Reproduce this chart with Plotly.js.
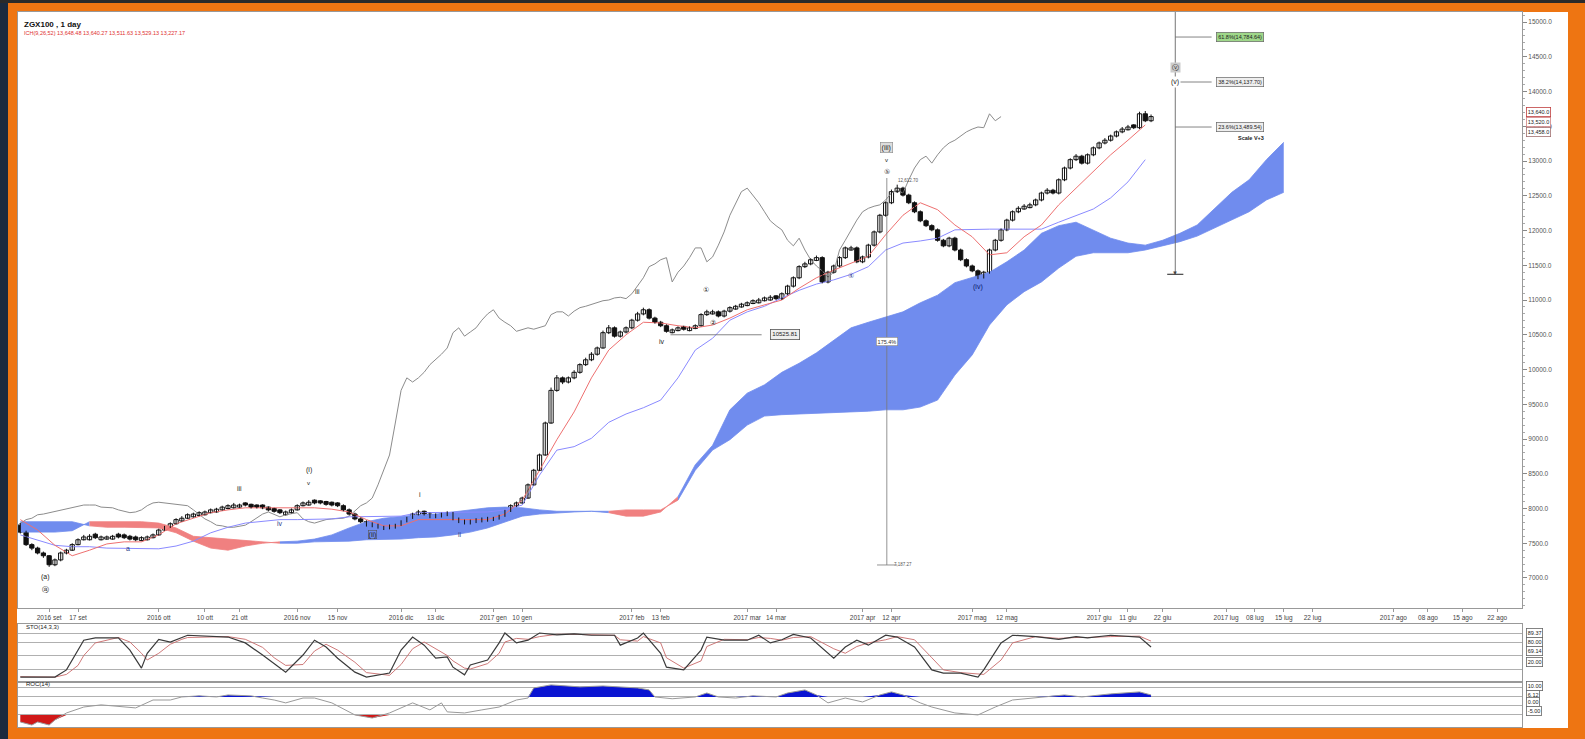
<!DOCTYPE html>
<html><head><meta charset="utf-8">
<script src="https://cdn.plot.ly/plotly-3.0.1.min.js"></script>
<style>html,body{margin:0;padding:0;background:#ee7512;}#chart{width:1585px;height:739px;}</style>
</head><body><div id="chart"></div>
<script>
// ---- price candles (one per trading day) ----
const opens = [7760,7660,7480,7430,7360,7320,7190,7260,7360,7400,
7480,7550,7550,7630,7550,7560,7560,7630,7620,7600,
7590,7540,7550,7580,7620,7690,7730,7780,7820,7860,
7880,7900,7910,7940,7950,7980,8000,8010,8020,8080,
8060,8050,8050,8020,8000,7980,7910,7940,7980,8040,
8050,8120,8110,8100,8090,8080,8040,7980,7920,7850,
7810,7790,7770,7700,7710,7720,7760,7810,7860,7910,
7960,7920,7870,7880,7900,7940,7850,7830,7780,7800,
7810,7820,7830,7850,7890,7960,8040,8080,8150,8340,
8550,8770,9230,9700,9880,9820,9880,9960,10070,10140,
10220,10310,10530,10600,10480,10540,10600,10710,10800,10860,
10740,10680,10630,10530,10560,10620,10560,10590,10630,10790,
10800,10830,10770,10840,10870,10900,10920,10950,10960,10990,
11000,11060,11020,11090,11200,11320,11480,11520,11570,11610,
11260,11400,11490,11610,11720,11750,11550,11620,11790,11980,
12220,12400,12560,12610,12510,12400,12270,12140,12070,12010,
11860,11780,11890,11720,11580,11490,11420,11330,11400,11720,
11860,12010,12150,12270,12310,12330,12370,12440,12540,12580,
12540,12730,12900,13020,13070,12970,13090,13190,13260,13300,
13360,13420,13450,13520,13480,13680,13580];
const highs = [7790,7680,7500,7450,7380,7330,7280,7380,7420,7500,
7570,7620,7630,7650,7610,7610,7620,7650,7640,7620,
7610,7600,7610,7640,7710,7750,7800,7860,7890,7930,
7940,7960,7970,8000,8010,8040,8060,8080,8070,8090,
8070,8060,8060,8030,8010,7990,7970,8000,8060,8100,
8120,8130,8120,8110,8100,8090,8060,8000,7940,7870,
7830,7800,7780,7750,7770,7780,7830,7880,7940,7980,
7970,7940,7930,7940,7960,7950,7870,7840,7840,7860,
7870,7880,7880,7910,7980,8060,8100,8170,8360,8570,
8790,9250,9740,9920,9900,9900,9990,10090,10170,10250,
10330,10560,10640,10620,10560,10620,10730,10830,10890,10880,
10760,10700,10650,10590,10620,10630,10620,10650,10810,10860,
10860,10850,10860,10910,10930,10960,10980,11010,11030,11050,
11070,11070,11110,11220,11340,11500,11550,11600,11640,11630,
11420,11510,11630,11770,11780,11770,11640,11810,12000,12240,
12420,12590,12660,12630,12530,12420,12290,12160,12090,12030,
11880,11910,11910,11740,11600,11510,11440,11420,11740,11880,
12030,12170,12290,12350,12380,12400,12460,12560,12610,12600,
12750,12920,13040,13100,13090,13110,13210,13280,13330,13380,
13440,13490,13520,13530,13710,13720,13670];
const lows = [7640,7460,7400,7340,7290,7160,7170,7240,7340,7390,
7470,7540,7540,7560,7540,7550,7550,7570,7560,7540,
7530,7530,7540,7570,7610,7680,7720,7770,7810,7850,
7870,7890,7900,7930,7940,7970,7990,8000,8010,8030,
8000,8000,7990,7960,7940,7920,7900,7930,7970,8030,
8040,8060,8060,8040,8030,8020,7960,7900,7830,7790,
7740,7730,7710,7690,7700,7710,7750,7800,7850,7900,
7900,7860,7860,7870,7890,7830,7790,7770,7770,7790,
7800,7810,7820,7840,7880,7950,8020,8070,8140,8330,
8540,8760,9220,9680,9790,9800,9860,9940,10050,10120,
10200,10300,10510,10460,10460,10520,10580,10690,10780,10720,
10660,10610,10530,10520,10550,10560,10550,10580,10620,10770,
10790,10750,10750,10820,10860,10890,10910,10940,10950,10980,
10990,11000,11000,11070,11180,11300,11460,11500,11560,11240,
11240,11380,11470,11590,11710,11530,11530,11600,11770,11960,
12200,12380,12540,12490,12380,12250,12120,12050,11990,11840,
11760,11760,11700,11560,11470,11400,11300,11310,11380,11700,
11840,11990,12130,12250,12300,12320,12350,12420,12520,12520,
12520,12710,12880,13000,12950,12950,13070,13170,13240,13280,
13340,13400,13440,13460,13460,13560,13560];
const closes = [7660,7480,7430,7360,7320,7190,7260,7360,7400,7480,
7550,7590,7600,7580,7590,7590,7600,7590,7580,7560,
7550,7580,7590,7620,7690,7730,7780,7840,7860,7910,
7920,7940,7950,7980,7990,8020,8040,8050,8050,8050,
8020,8020,8010,7980,7960,7940,7950,7980,8040,8080,
8090,8080,8080,8060,8050,8040,7980,7920,7850,7810,
7760,7750,7730,7730,7750,7760,7810,7860,7920,7950,
7920,7880,7910,7920,7940,7850,7810,7790,7820,7840,
7850,7860,7860,7890,7960,8040,8080,8150,8340,8550,
8770,9230,9700,9880,9820,9880,9960,10070,10140,10220,
10310,10530,10600,10480,10540,10600,10710,10800,10860,10740,
10680,10630,10550,10570,10600,10580,10600,10630,10790,10830,
10830,10770,10840,10890,10910,10940,10960,10990,11000,11030,
11040,11020,11090,11200,11320,11480,11520,11580,11610,11260,
11400,11490,11610,11750,11750,11550,11620,11790,11980,12220,
12400,12560,12610,12510,12400,12270,12140,12070,12010,11860,
11780,11890,11720,11580,11490,11420,11330,11400,11720,11860,
12010,12150,12270,12320,12350,12370,12440,12540,12580,12540,
12730,12900,13020,13070,12970,13090,13190,13260,13300,13360,
13420,13460,13490,13480,13680,13580,13640];

// ---- Ichimoku lines, read every 3rd day ----
const tenkan = [7840,7690,7470,7320,7400,7490,7520,7520,7620,7780,
7860,7940,7980,8010,8010,8010,8010,8010,7990,7950,
7840,7750,7750,7840,7840,7840,7840,7840,7920,8120,
8550,8990,9390,9880,10280,10500,10680,10670,10630,10600,
10640,10740,10860,10930,11000,11170,11320,11430,11530,11630,
11940,12220,12400,12300,12080,11910,11650,11680,11910,12080,
12370,12610,12840,13090,13300,13520];
const kijun = [7620,7550,7470,7450,7450,7430,7430,7420,7420,7460,
7530,7650,7730,7790,7820,7840,7840,7840,7850,7880,
7880,7880,7890,7940,7940,7940,7940,7950,7980,8050,
8480,8840,8890,9010,9240,9360,9450,9560,9880,10280,
10450,10710,10830,10910,11030,11140,11230,11290,11370,11480,
11720,11820,11850,11890,12010,12020,12020,12020,12020,12020,
12120,12220,12310,12470,12700,13020];
// cloud (already displaced 26 days ahead), read every 3rd day
const senkouA = [7810,7810,7810,7810,7750,7730,7730,7730,7720,7650,
7530,7430,7400,7460,7500,7520,7530,7560,7620,7720,
7810,7860,7890,7910,7920,7950,7980,8010,8020,8010,
7980,7960,7960,7960,7940,7890,7890,7950,8170,8630,
8910,9420,9660,9780,9960,10090,10240,10420,10600,10680,
10760,10830,10960,11070,11250,11330,11400,11550,11720,11960,
12070,12120,12010,11890,11820,11790,11860,11960,12080,12320,
12550,12730,13020,13270];
const senkouB = [7660,7660,7660,7680,7810,7810,7810,7810,7790,7720,
7600,7580,7550,7530,7520,7500,7500,7520,7520,7530,
7550,7550,7560,7580,7590,7620,7660,7720,7810,7890,
7920,7940,7950,7960,7960,7980,7980,7980,8120,8550,
8840,8990,9200,9330,9350,9360,9370,9370,9390,9400,
9420,9420,9460,9560,9920,10210,10640,10930,11120,11260,
11460,11630,11680,11680,11680,11720,11780,11840,11920,12040,
12150,12270,12440,12550];

// ---- Stochastic (day index, %K, %D) ----
const stochDay = [0,6,8,10,11,13,17,19,21,22,24,26,28,29,36,39,42,44,46,49,51,53,55,58,60,64,66,68,70,72,74,75,77,78,81,83,84,86,88,90,93,96,99,103,104,107,108,111,112,115,118,119,122,126,128,130,132,134,137,141,143,145,147,150,152,155,158,160,163,166,167,170,172,176,180,183,185,189,194,196];
const stochK = [2,2,18,62,84,89,89,62,22,55,86,80,91,95,91,78,51,33,13,51,84,69,44,13,2,11,62,91,73,44,47,24,7,29,40,78,100,78,84,100,96,98,95,95,73,89,100,55,24,18,62,91,84,84,95,78,85,97,89,44,69,84,73,95,91,69,18,11,11,2,18,78,95,92,86,92,89,95,91,69];
const stochD = [3,2,8,28,50,78,90,80,55,40,55,75,86,90,92,86,68,45,28,30,60,75,62,35,12,6,30,65,80,65,50,38,22,20,32,55,80,88,86,92,97,97,96,95,85,82,92,78,45,22,38,70,86,85,90,88,84,90,92,65,55,70,78,85,92,85,45,18,12,8,8,40,78,92,88,90,90,92,93,82];

// ---- ROC (day index, value %) ----
const rocDay = [0,2,3,5,6,8,11,14,20,23,26,28,31,34,36,40,42,44,46,49,51,54,58,61,64,68,71,73,74,77,80,83,86,88,89,92,97,101,107,109,110,113,117,119,121,124,127,131,133,136,138,140,143,146,149,151,153,156,158,162,166,169,172,176,181,184,189,194,196];
const rocVal = [-8.9,-10.6,-8.9,-10.6,-7.8,-3.9,-0.6,0.6,-1.1,3.3,3.3,5,5.6,5,6.1,5.6,4.4,3.3,1.7,4.4,4.4,1.7,-5,-6.7,-3.9,1.7,-2.2,1.7,-3.3,-3.9,-2.2,-0.6,3.3,4.4,10,11.7,10.6,11.1,10,8.9,5,4,5,7.2,5,4.4,5.6,5,7.2,8.9,6.1,1.7,4.4,2.2,6.1,7.8,6.1,1.7,-0.6,-3.9,-5,-0.6,3.3,4.4,6.1,5,6.7,7.8,6.1];

// ---- axis labels ----
const dateTickDay = [5,10,24,32,38,48,55,66,72,82,87,106,111,126,131,146,151,165,171,187,192,198,209,214,219,224,238,244,250,256];
const dateTickText = ['2016 set','17 set','2016 ott','10 ott','21 ott','2016 nov','15 nov','2016 dic','13 dic','2017 gen','10 gen','2017 feb','13 feb','2017 mar','14 mar','2017 apr','12 apr','2017 mag','12 mag','2017 giu','11 giu','22 giu','2017 lug','08 lug','15 lug','22 lug','2017 ago','08 ago','15 ago','22 ago'];
const fibLevels = [14784.64, 14137.70, 13489.54];
const fibText = ['61.8%(14,784.64)','38.2%(14,137.70)','23.6%(13,489.54)'];
const measureLow = 7187.27, measureHigh = 12756.0;

// ================= drawing =================
const F = 'Liberation Sans, Arial, sans-serif';
const days = closes.map((_, i) => i);
const step3 = tenkan.map((_, k) => 3 * k);
const cloudDay = senkouA.map((_, k) => 3 * k);
const traces = [];

// cloud split in bullish / bearish runs
(function () {
  const runs = [];
  let cur = null;
  for (let k = 0; k < cloudDay.length; k++) {
    const bull = senkouA[k] >= senkouB[k];
    if (!cur || cur.bull !== bull) {
      if (cur) cur.pts.push(k);
      cur = { bull, pts: [k] };
      runs.push(cur);
    } else cur.pts.push(k);
  }
  runs.forEach(r => {
    const col = r.bull ? 'rgb(112,140,238)' : 'rgb(240,128,128)';
    const xs = r.pts.map(k => cloudDay[k]);
    traces.push({ x: xs, y: r.pts.map(k => senkouB[k]), type: 'scatter', mode: 'lines',
      line: { color: col, width: 0.8 }, hoverinfo: 'skip', showlegend: false });
    traces.push({ x: xs, y: r.pts.map(k => senkouA[k]), type: 'scatter', mode: 'lines',
      line: { color: col, width: 0.8 }, fill: 'tonexty', fillcolor: col, hoverinfo: 'skip', showlegend: false });
  });
})();

// chikou span = closes drawn 26 days back
traces.push({ x: days.map(d => d - 26), y: closes, type: 'scatter', mode: 'lines',
  line: { color: '#8c8c8c', width: 1 }, showlegend: false });
traces.push({ x: step3, y: kijun, type: 'scatter', mode: 'lines',
  line: { color: '#8a8aff', width: 1 }, showlegend: false });
traces.push({ x: step3, y: tenkan, type: 'scatter', mode: 'lines',
  line: { color: '#ee7070', width: 1 }, showlegend: false });

// candles: wicks + bodies
const wx = [], wy = [];
days.forEach(i => { wx.push(i, i, null); wy.push(lows[i], highs[i], null); });
traces.push({ x: wx, y: wy, type: 'scatter', mode: 'lines', line: { color: '#111', width: 1 },
  showlegend: false, hoverinfo: 'skip' });
traces.push({ x: days, base: days.map(i => Math.min(opens[i], closes[i])),
  y: days.map(i => Math.abs(closes[i] - opens[i])), type: 'bar', width: 0.74,
  marker: { color: days.map(i => closes[i] >= opens[i] ? '#ffffff' : '#111111'), line: { color: '#111', width: 1 } },
  showlegend: false, hoverinfo: 'skip' });

// stochastic
traces.push({ x: stochDay, y: stochD, xaxis: 'x2', yaxis: 'y2', type: 'scatter', mode: 'lines',
  line: { color: '#c86a6a', width: 0.9 }, showlegend: false });
traces.push({ x: stochDay, y: stochK, xaxis: 'x2', yaxis: 'y2', type: 'scatter', mode: 'lines',
  line: { color: '#3a3a3a', width: 1.2 }, showlegend: false });

// ROC with coloured excess areas
traces.push({ x: rocDay, y: rocDay.map(() => 5), xaxis: 'x3', yaxis: 'y3', type: 'scatter', mode: 'lines',
  line: { width: 0, color: 'rgba(0,0,0,0)' }, showlegend: false, hoverinfo: 'skip' });
traces.push({ x: rocDay, y: rocVal.map(v => Math.max(v, 5)), xaxis: 'x3', yaxis: 'y3', type: 'scatter', mode: 'lines',
  line: { width: 0, color: 'rgba(0,0,0,0)' }, fill: 'tonexty', fillcolor: '#0a14d2', showlegend: false, hoverinfo: 'skip' });
traces.push({ x: rocDay, y: rocDay.map(() => -5), xaxis: 'x3', yaxis: 'y3', type: 'scatter', mode: 'lines',
  line: { width: 0, color: 'rgba(0,0,0,0)' }, showlegend: false, hoverinfo: 'skip' });
traces.push({ x: rocDay, y: rocVal.map(v => Math.min(v, -5)), xaxis: 'x3', yaxis: 'y3', type: 'scatter', mode: 'lines',
  line: { width: 0, color: 'rgba(0,0,0,0)' }, fill: 'tonexty', fillcolor: '#d01818', showlegend: false, hoverinfo: 'skip' });
traces.push({ x: rocDay, y: rocVal, xaxis: 'x3', yaxis: 'y3', type: 'scatter', mode: 'lines',
  line: { color: '#9a9a9a', width: 1 }, showlegend: false });

// ---- annotations ----
const ann = [];
function lab(x, y, text, o) {
  ann.push(Object.assign({ x, y, xref: 'x', yref: 'y', text, showarrow: false,
    font: { family: F, size: 7, color: '#222' } }, o || {}));
}
lab(4.3, 7010, '(a)'); lab(4.3, 6840, 'ⓐ');
lab(18.7, 7430, 'a', { font: { family: F, size: 7, color: '#2a3a8a' } });
lab(38, 8290, 'iii'); lab(45, 7790, 'iv', { font: { family: F, size: 7, color: '#2a3a8a' } });
lab(50, 8560, '(i)'); lab(50, 8360, 'v', { font: { family: F, size: 6, color: '#222' } });
lab(61, 7620, '(ii)', { bordercolor: '#555', borderwidth: 0.6, borderpad: 0 });
lab(69.3, 8200, 'i'); lab(76.3, 7620, 'ii', { font: { family: F, size: 7, color: '#2a3a8a' } });
lab(107, 11120, 'iii'); lab(111.3, 10400, 'iv');
lab(118.9, 11145, '①'); lab(120, 10670, '②');
lab(144, 11360, '④', { font: { family: F, size: 7, color: '#2a3a8a' } });
lab(150.2, 13200, '(iii)', { bgcolor: '#ddd', bordercolor: '#888', borderwidth: 0.6, borderpad: 1 });
lab(150.2, 13020, 'v', { font: { family: F, size: 6, color: '#222' } });
lab(150.2, 12850, '⑤');
lab(166, 11190, '(iv)', { font: { family: F, size: 7, color: '#0a1a6a' } });
lab(200.2, 14350, 'ⓥ', { bgcolor: '#ccc' });
lab(200.2, 14140, '(v)', { bgcolor: '#fff' });
lab(132.6, 10500, '10525.81', { font: { family: F, size: 6, color: '#222' }, bgcolor: '#eee', bordercolor: '#555', borderwidth: 0.8, borderpad: 1.5 });
lab(150.2, 10400, '175.4%', { font: { family: F, size: 5.5, color: '#333' }, bgcolor: '#fff', bordercolor: '#888', borderwidth: 0.6, borderpad: 1 });
lab(154, 12720, '12,612.70', { font: { family: F, size: 4.5, color: '#555' } });
lab(153, 7187, '7,187.27', { font: { family: F, size: 4.5, color: '#555' } });
fibLevels.forEach((v, k) => lab(211.4, v, fibText[k], {
  font: { family: F, size: 5.5, color: '#222' }, bgcolor: k === 0 ? '#9fd88a' : '#eee',
  bordercolor: '#666', borderwidth: 0.7, borderpad: 1.5 }));
lab(213.3, 13330, '<b>Scale V+3</b>', { font: { family: F, size: 5.5, color: '#222' } });

// right side value tags
function tag(y, yref, text, col, bg) {
  ann.push({ x: 0.9625, xref: 'paper', y, yref, text, xanchor: 'left', showarrow: false,
    font: { family: F, size: 5.5, color: '#222' }, bgcolor: bg || '#fff', bordercolor: col, borderwidth: 0.8, borderpad: 1 });
}
tag(13700, 'y', '13,640.0', '#c04040');
tag(13560, 'y', '13,520.0', '#d08080');
tag(13420, 'y', '13,458.0', '#a07070');
tag(100, 'y2', '89.37', '#666'); tag(80, 'y2', '80.00', '#666'); tag(60, 'y2', '69.14', '#666'); tag(35, 'y2', '20.00', '#666');
tag(11, 'y3', '10.00', '#666'); tag(6.3, 'y3', '6.12', '#666'); tag(2, 'y3', '0.00', '#666'); tag(-3, 'y3', '-5.00', '#666');

// titles
ann.push({ x: 22 / 1585, y: 1 - 18 / 739, xref: 'paper', yref: 'paper', xanchor: 'left', showarrow: false,
  text: '<b>ZGX100 , 1 day</b>', font: { family: F, size: 8, color: '#111' } });
ann.push({ x: 22 / 1585, y: 1 - 28 / 739, xref: 'paper', yref: 'paper', xanchor: 'left', showarrow: false,
  text: 'ICH(9,26,52) 13,648.48 13,640.27 13,511.63 13,529.13 13,227.17', font: { family: F, size: 5.5, color: '#e03030' } });
ann.push({ x: 24 / 1585, y: 1 - 632 / 739, xref: 'paper', yref: 'paper', xanchor: 'left', showarrow: false,
  text: 'STO(14,3,3)', font: { family: F, size: 6, color: '#222' } });
ann.push({ x: 24 / 1585, y: 1 - 689 / 739, xref: 'paper', yref: 'paper', xanchor: 'left', showarrow: false,
  text: 'ROC(14)', font: { family: F, size: 6, color: '#222' } });

// ---- shapes: frame and drawing tools ----
const shapes = [
  { type: 'rect', xref: 'paper', yref: 'paper', x0: 17 / 1585, x1: 1568 / 1585, y0: 1 - 728 / 739, y1: 1 - 12 / 739,
    fillcolor: '#ffffff', line: { width: 0 }, layer: 'below' },
  { type: 'rect', xref: 'paper', yref: 'paper', x0: 0, x1: 8 / 1585, y0: 0, y1: 1,
    fillcolor: '#1b2a3e', line: { width: 0 }, layer: 'below' },
  { type: 'rect', xref: 'paper', yref: 'paper', x0: 0, x1: 1, y0: 1 - 3 / 739, y1: 1,
    fillcolor: '#2a2a2a', line: { width: 0 }, layer: 'below' },
  { type: 'line', xref: 'x', yref: 'y', x0: 150.2, x1: 150.2, y0: measureLow, y1: measureHigh, line: { color: '#777', width: 0.8 } },
  { type: 'line', xref: 'x', yref: 'y', x0: 148.5, x1: 152, y0: measureLow, y1: measureLow, line: { color: '#777', width: 0.8 } },
  { type: 'line', xref: 'x', yref: 'y', x0: 112.7, x1: 128.5, y0: 10500, y1: 10500, line: { color: '#666', width: 0.8 } },
  { type: 'line', xref: 'x', yref: 'y', x0: 200.2, x1: 200.2, y0: 11370, y1: 15145, line: { color: '#666', width: 0.9 } },
  { type: 'line', xref: 'x', yref: 'y', x0: 198.8, x1: 201.6, y0: 11370, y1: 11370, line: { color: '#444', width: 1.2 } }
];
fibLevels.forEach(v => shapes.push({ type: 'line', xref: 'x', yref: 'y', x0: 200.2, x1: 206.5, y0: v, y1: v, line: { color: '#666', width: 0.8 } }));
ann.push({ x: 200.2, y: 11390, xref: 'x', yref: 'y', text: '▼', showarrow: false, font: { family: F, size: 6, color: '#444' } });

const xDom = [18 / 1585, 1522 / 1585];
const axBase = { showgrid: false, zeroline: false, showline: true, linecolor: '#999', linewidth: 1, mirror: true, fixedrange: true };
const layout = {
  width: 1585, height: 739, margin: { l: 0, r: 0, t: 0, b: 0 },
  paper_bgcolor: '#ee7512', plot_bgcolor: '#ffffff', showlegend: false, hovermode: false,
  barmode: 'overlay', font: { family: F },
  xaxis: Object.assign({}, axBase, { domain: xDom, anchor: 'y', range: [-0.4, 260.3],
    tickmode: 'array', tickvals: dateTickDay, ticktext: dateTickText, ticks: 'outside', ticklen: 3, tickcolor: '#999',
    ticklabelstandoff: 0, tickfont: { family: F, size: 6.5, color: '#444' } }),
  yaxis: Object.assign({}, axBase, { domain: [1 - 608 / 739, 1 - 12 / 739], anchor: 'x', range: [6568, 15145], side: 'right',
    tickmode: 'linear', tick0: 0, dtick: 500, tickformat: '.1f', ticks: 'outside', ticklen: 4, tickcolor: '#888',
    minor: { ticks: 'outside', ticklen: 2, tickmode: 'linear', tick0: 0, dtick: 100, tickcolor: '#aaa' },
    tickfont: { family: F, size: 6.5, color: '#555' } }),
  xaxis2: Object.assign({}, axBase, { domain: xDom, anchor: 'y2', matches: 'x', showticklabels: false, ticks: '' }),
  yaxis2: Object.assign({}, axBase, { domain: [1 - 682 / 739, 1 - 624 / 739], anchor: 'x2', range: [-8.9, 120], side: 'right',
    tickmode: 'array', tickvals: [20, 50, 80, 100], showticklabels: false, showgrid: true, gridcolor: '#b0b0b0', gridwidth: 1, ticks: '' }),
  xaxis3: Object.assign({}, axBase, { domain: xDom, anchor: 'y3', matches: 'x', showticklabels: false, ticks: '' }),
  yaxis3: Object.assign({}, axBase, { domain: [1 - 727 / 739, 1 - 682 / 739], anchor: 'x3', range: [-11.7, 13.3], side: 'right',
    tickmode: 'array', tickvals: [-5, 0, 5, 10], showticklabels: false, showgrid: true, gridcolor: '#b0b0b0', gridwidth: 1, ticks: '' }),
  shapes, annotations: ann
};
Plotly.newPlot('chart', traces, layout, { displayModeBar: false, staticPlot: true });
</script></body></html>
